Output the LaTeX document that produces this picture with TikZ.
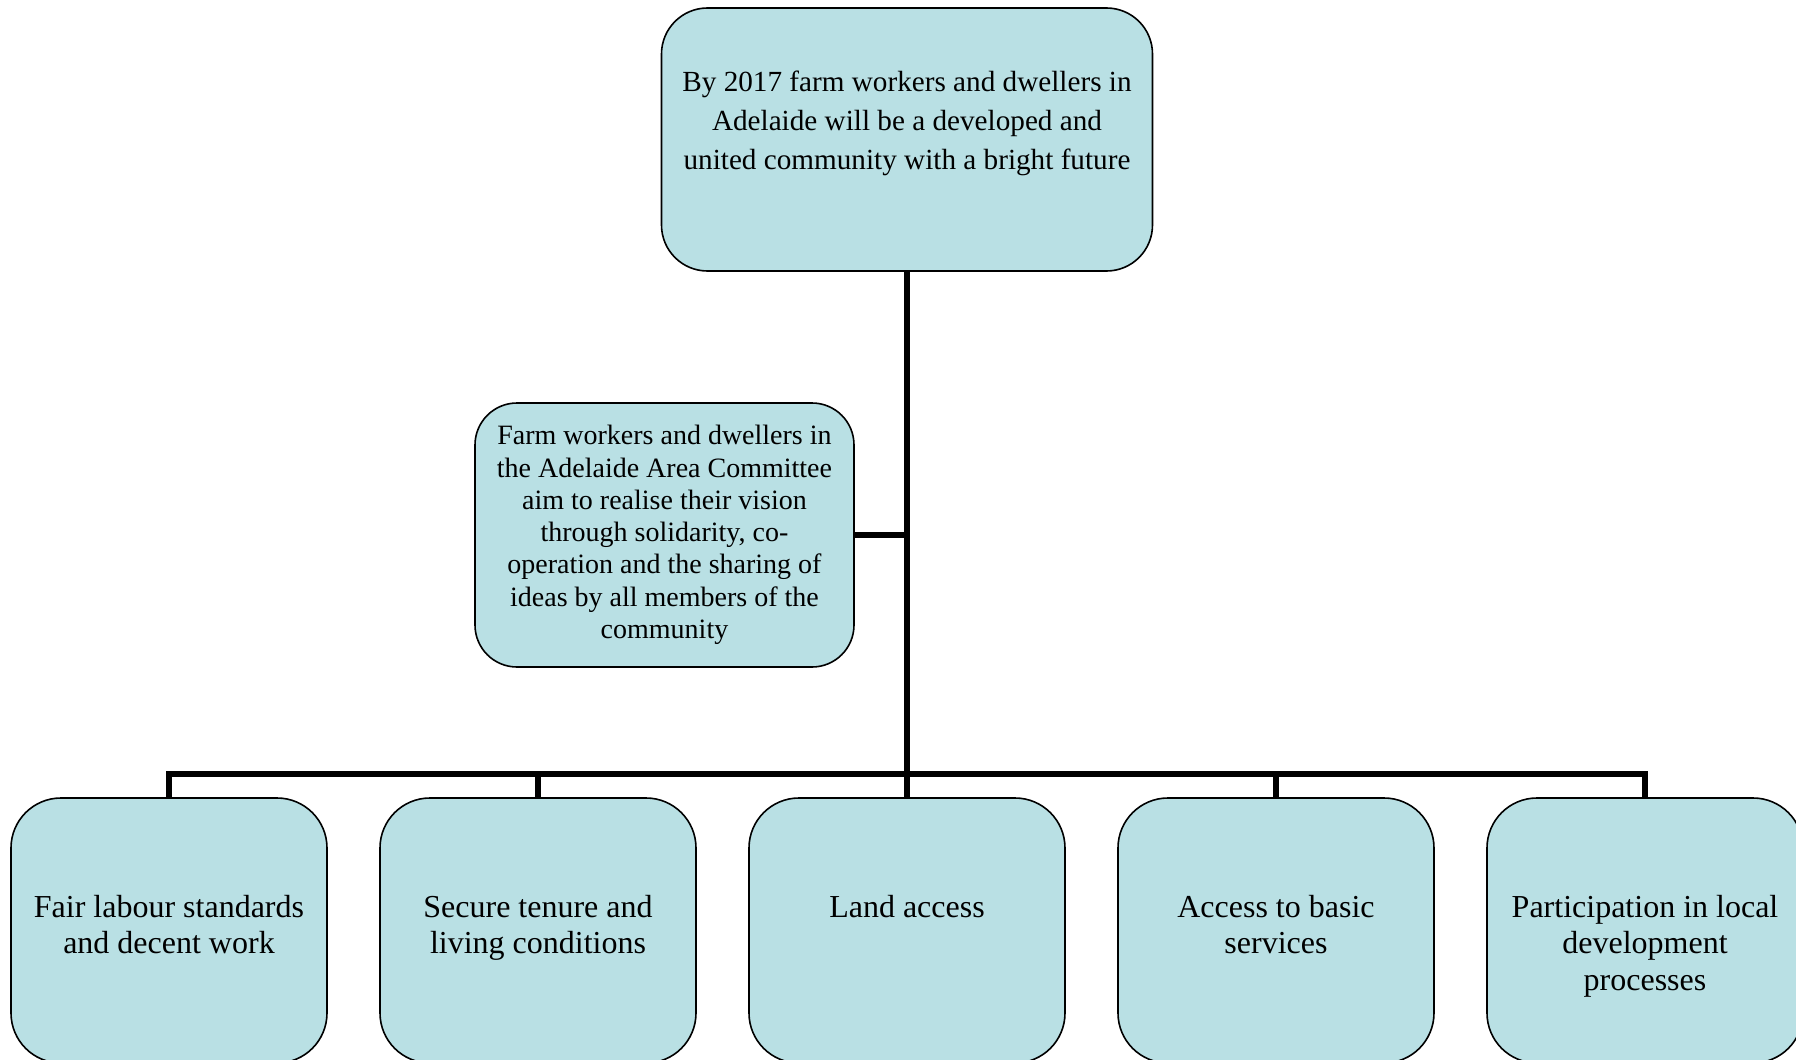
\documentclass[tikz,border=0pt]{standalone}
\usepackage{fontspec}
\setmainfont{Liberation Serif}
\usetikzlibrary{positioning}

\definecolor{boxfill}{RGB}{185,224,228}

\begin{document}
\begin{tikzpicture}[
      x=0.5pt, y=-0.5pt,
      node distance=26.5pt,
      box/.style={draw, fill=boxfill, line width=0.8pt, inner sep=0pt, outer sep=0pt},
      vision node/.style={box, rounded corners=23pt, minimum width=245.5pt, minimum height=131.5pt},
      mission node/.style={box, rounded corners=21pt, minimum width=189.5pt, minimum height=132pt, align=center,
        font=\fontsize{14}{16.15}\selectfont},
      goal node/.style={box, rounded corners=25pt, minimum width=158pt, minimum height=132.5pt},
      box text/.style={anchor=north, inner sep=0pt, align=center, font=\fontsize{16}{18.4}\selectfont},
      link/.style={line width=2.9pt}
    ]
    \useasboundingbox (0,0) rectangle (1796,1060);
    \clip (0,0) rectangle (1796,1060);

    % Vision at the top
    \node (vision) [vision node] at (907,139.5) {};
    \node (visiontext) [box text, font=\fontsize{14.6}{19.5}\selectfont] at ([yshift=-31.5pt]vision.north)
      {By 2017 farm workers and dwellers in\\Adelaide will be a developed and\\united community with a bright future};

    % Mission on the trunk
    \node (mission) [mission node] at (664.5,535)
      {Farm workers and dwellers in\\the Adelaide Area Committee\\aim to realise their vision\\through solidarity, co-\\operation and the sharing of\\ideas by all members of the\\community};

    % Goals along the bottom
    \node (fair) [goal node] at (169,930.5) {};
    \node (tenure) [goal node, right=of fair] {};
    \node (land) [goal node, right=of tenure] {};
    \node (services) [goal node, right=of land] {};
    \node (participation) [goal node, right=of services] {};

    \node (fairtext) [box text] at ([yshift=-48.2pt]fair.north) {Fair labour standards\\and decent work};
    \node (tenuretext) [box text] at ([yshift=-48.2pt]tenure.north) {Secure tenure and\\living conditions};
    \node (landtext) [box text] at ([yshift=-48.2pt]land.north) {Land access};
    \node (servicestext) [box text] at ([yshift=-48.2pt]services.north) {Access to basic\\services};
    \node (participationtext) [box text] at ([yshift=-48.2pt]participation.north) {Participation in local\\development\\processes};

    % Connectors
    \coordinate (fork) at (907,774);
    \draw[link] (vision.south) -- (land.north);
    \draw[link] (mission.east) -- (mission.east -| vision.south);
    \draw[link] (fair.north) |- (fork) -| (participation.north);
    \draw[link] (tenure.north) -- (tenure.north |- fork);
    \draw[link] (services.north) -- (services.north |- fork);
  \end{tikzpicture}
\end{document}
